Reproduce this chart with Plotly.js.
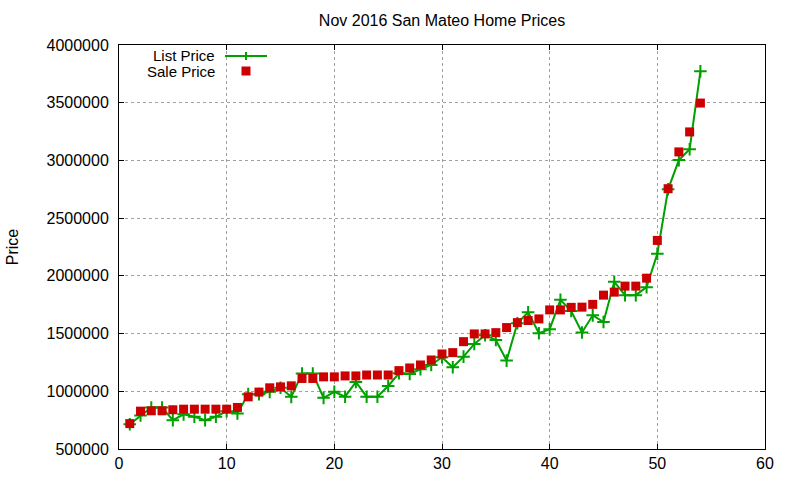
<!DOCTYPE html>
<html>
<head>
<meta charset="utf-8">
<script src="https://cdn.plot.ly/plotly-3.0.1.min.js"></script>
<style>html,body{margin:0;padding:0;background:#fff;}#chart{width:800px;height:480px;}</style>
</head>
<body>
<div id="chart"></div>
<script>
const homeIndex = Array.from({length: 54}, (_, i) => i + 1);
const listPrice = [715000, 790000, 860000, 860000, 750000, 800000, 779000, 750000, 779000, 828000,
  808000, 975000, 975000, 995000, 1030000, 952000, 1154000, 1154000, 943000, 995000,
  953000, 1081000, 953000, 953000, 1046000, 1156000, 1150000, 1191000, 1228000, 1295000,
  1208000, 1300000, 1410000, 1486000, 1445000, 1266000, 1590000, 1685000, 1503000, 1538000,
  1792000, 1695000, 1509000, 1658000, 1600000, 1948000, 1833000, 1833000, 1902000, 2192000,
  2750000, 3003000, 3097000, 3772000];
const salePrice = [720000, 828000, 831000, 831000, 840000, 845000, 845000, 845000, 845000, 845000,
  860000, 952000, 993000, 1030000, 1038000, 1047000, 1111000, 1111000, 1125000, 1125000,
  1133000, 1133000, 1141000, 1141000, 1141000, 1179000, 1202000, 1228000, 1271000, 1323000,
  1335000, 1430000, 1497000, 1497000, 1508000, 1552000, 1595000, 1613000, 1627000, 1705000,
  1705000, 1727000, 1729000, 1753000, 1833000, 1859000, 1911000, 1911000, 1980000, 2307000,
  2755000, 3074000, 3247000, 3497000];
const seriesNames = ["List Price", "Sale Price"];
const titleText = "Nov 2016 San Mateo Home Prices";
const yTitle = "Price";

const green = "#00a000", red = "#cc0000";
const FONT = "Liberation Sans, Arial, sans-serif";

const traces = [
  {x: homeIndex, y: listPrice, name: seriesNames[0], type: "scatter", mode: "lines+markers",
   line: {color: green, width: 2},
   marker: {symbol: "cross-thin", size: 9, line: {color: green, width: 2}, color: green}},
  {x: homeIndex, y: salePrice, name: seriesNames[1], type: "scatter", mode: "markers",
   marker: {symbol: "square", size: 9, color: red, line: {width: 0}}}
];

// pixel -> paper helpers for legend decoration
const L = 119, R = 765, T = 45, B = 449;
const px = v => (v - L) / (R - L);
const py = v => (B - v) / (B - T);

const shapes = [
  {type: "line", xref: "paper", yref: "paper", x0: px(225), x1: px(267), y0: py(56), y1: py(56), line: {color: green, width: 2}},
  {type: "line", xref: "paper", yref: "paper", x0: px(246), x1: px(246), y0: py(52), y1: py(60), line: {color: green, width: 2}},
  {type: "rect", xref: "paper", yref: "paper", x0: px(241.5), x1: px(250.5), y0: py(66.5), y1: py(75.5), fillcolor: red, line: {width: 0}}
];

const annotations = [
  {text: seriesNames[0], xref: "paper", yref: "paper", x: px(217), y: py(55), xanchor: "right", yanchor: "middle", showarrow: false, font: {family: FONT, size: 15, color: "#000"}},
  {text: seriesNames[1], xref: "paper", yref: "paper", x: px(217), y: py(72), xanchor: "right", yanchor: "middle", showarrow: false, font: {family: FONT, size: 15, color: "#000"}}
];

const axisCommon = {
  showline: true, linecolor: "#000", linewidth: 1, mirror: "allticks",
  ticks: "inside", ticklen: 5, tickcolor: "#000", tickwidth: 1,
  showgrid: true, gridcolor: "#a0a0a0", griddash: "dot", gridwidth: 1,
  zeroline: false, tickfont: {family: FONT, size: 16, color: "#000"}
};

const layout = {
  width: 800, height: 480,
  margin: {l: L, r: 800 - R, t: T, b: 480 - B, pad: 0},
  paper_bgcolor: "#fff", plot_bgcolor: "#fff",
  showlegend: false,
  title: {text: titleText, x: (L + R) / 2 / 800, xanchor: "center", y: 1 - 20 / 480, yanchor: "middle",
          font: {family: FONT, size: 16, color: "#000"}},
  xaxis: Object.assign({}, axisCommon, {range: [0, 60], dtick: 10, tick0: 0, ticklabelstandoff: 0}),
  yaxis: Object.assign({}, axisCommon, {range: [500000, 4000000], dtick: 500000, tick0: 500000,
          tickformat: "d", ticklabelstandoff: 6,
          title: {text: yTitle, standoff: 23, font: {family: FONT, size: 16, color: "#000"}}}),
  shapes: shapes,
  annotations: annotations
};

Plotly.newPlot("chart", traces, layout, {displayModeBar: false, staticPlot: true});
</script>
</body>
</html>
